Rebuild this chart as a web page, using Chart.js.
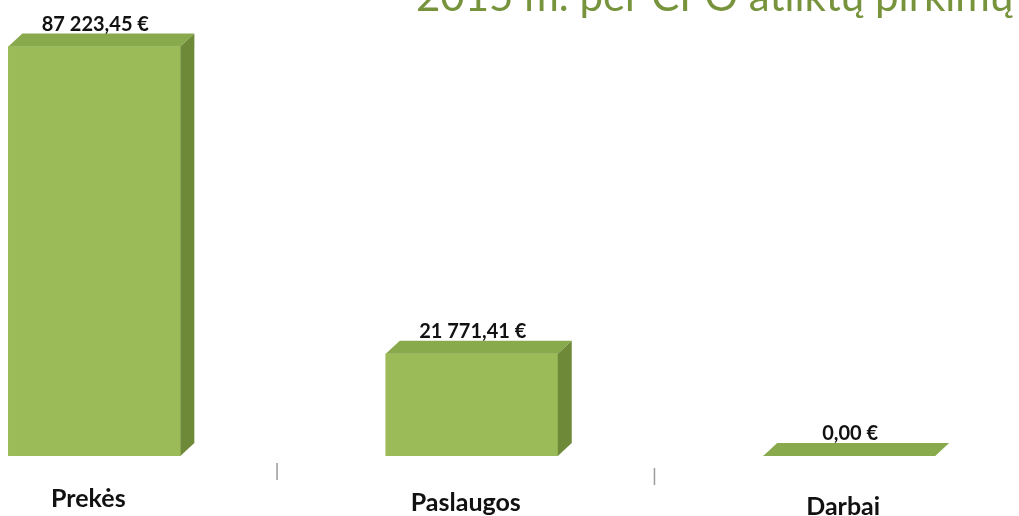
<!DOCTYPE html>
<html>
<head>
<meta charset="utf-8">
<script src="https://cdn.jsdelivr.net/npm/chart.js@4"></script>
<style>
  html, body { margin: 0; padding: 0; background: #fff; }
  #wrap { width: 1019px; height: 516px; position: relative; }
</style>
</head>
<body>
<div id="wrap"><canvas id="chart"></canvas></div>
<script>
// duomenys
const categories = ['Prekės', 'Paslaugos', 'Darbai'];
const values = [87223.45, 21771.41, 0];
const titleText = '2015 m. per CPO atliktų pirkimų';

const fmtEur = (v) => {
  const [int, dec] = v.toFixed(2).split('.');
  return int.replace(/\B(?=(\d{3})+(?!\d))/g, ' ') + ',' + dec + ' €';
};

// 3D gylis
const DX = 14;
const DY = 13;

const bar3d = {
  id: 'bar3d',
  afterDatasetsDraw(chart) {
    const { ctx } = chart;
    const meta = chart.getDatasetMeta(0);
    const xs = chart.scales.x;
    ctx.save();
    meta.data.forEach((bar, i) => {
      const { x, y, base, width } = bar.getProps(['x', 'y', 'base', 'width'], true);
      const l = x - width / 2;
      const r = x + width / 2;
      // virsus
      ctx.fillStyle = '#89aa4c';
      ctx.beginPath();
      ctx.moveTo(l, y);
      ctx.lineTo(l + DX, y - DY);
      ctx.lineTo(r + DX, y - DY);
      ctx.lineTo(r, y);
      ctx.closePath();
      ctx.fill();
      // sonas
      if (base - y > 0) {
        ctx.fillStyle = '#6e8a39';
        ctx.beginPath();
        ctx.moveTo(r, y);
        ctx.lineTo(r + DX, y - DY);
        ctx.lineTo(r + DX, base - DY);
        ctx.lineTo(r, base);
        ctx.closePath();
        ctx.fill();
      }
      // reiksme
      ctx.fillStyle = '#111';
      ctx.font = 'bold 20px Lato';
      ctx.textAlign = 'center';
      ctx.textBaseline = 'alphabetic';
      ctx.fillText(fmtEur(values[i]), x + 1, y - DY - 3);
      // kategorija
      ctx.font = 'bold 25px Lato';
      ctx.fillText(categories[i], x - 6, 507 + i * 4);
    });
    // skyrikliai
    ctx.strokeStyle = '#9a9a9a';
    ctx.lineWidth = 1.5;
    for (let i = 0; i < categories.length - 1; i++) {
      const px = xs.getPixelForValue(i + 0.5) - 6;
      ctx.beginPath();
      ctx.moveTo(px, 463 + i * 5);
      ctx.lineTo(px, 480 + i * 5);
      ctx.stroke();
    }
    // pavadinimas
    ctx.fillStyle = '#77933c';
    ctx.font = '42px Lato';
    ctx.textAlign = 'left';
    ctx.fillText(titleText, 416, 11);
    ctx.restore();
  }
};

new Chart(document.getElementById('chart'), {
  type: 'bar',
  data: {
    datasets: [{
      data: values.map((v, i) => ({ x: i, y: v })),
      backgroundColor: '#9bbb59',
      borderWidth: 0,
      barThickness: 172,
    }],
  },
  options: {
    responsive: true,
    maintainAspectRatio: false,
    animation: false,
    layout: { padding: { top: 10, bottom: 60, left: 0, right: 0 } },
    plugins: {
      legend: { display: false },
      tooltip: { enabled: false },
      title: { display: false },
    },
    scales: {
      x: { type: 'linear', min: -0.25, max: 2.45, display: false, offset: false },
      y: { min: 0, max: 95000, display: false },
    },
  },
  plugins: [bar3d],
});
</script>
</body>
</html>
